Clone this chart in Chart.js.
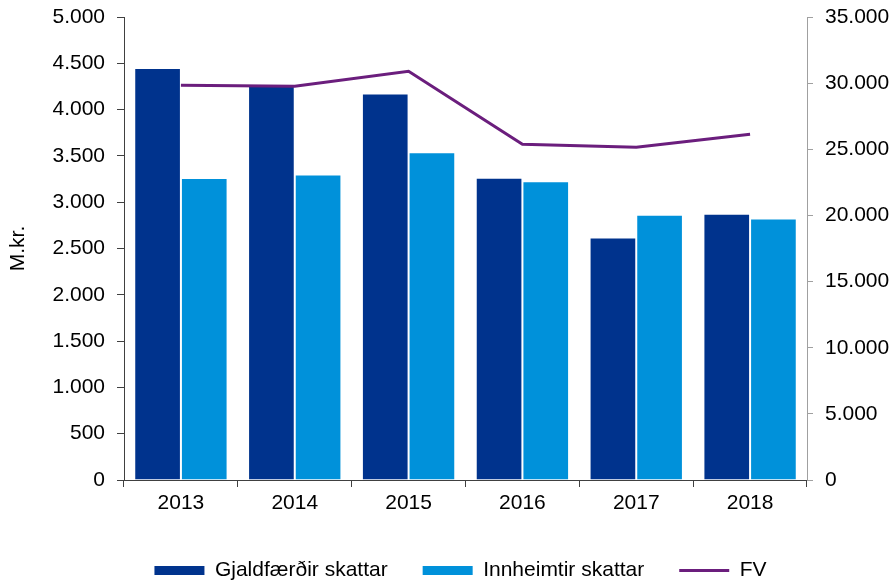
<!DOCTYPE html>
<html>
<head>
<meta charset="utf-8">
<script src="https://cdn.jsdelivr.net/npm/chart.js@4/dist/chart.umd.min.js"></script>
<style>
  html, body { margin: 0; padding: 0; background: #fff; }
  #wrap { width: 893px; height: 581px; }
</style>
</head>
<body>
<div id="wrap"><canvas id="skattar"></canvas></div>
<script>
const years = ['2013', '2014', '2015', '2016', '2017', '2018'];
const gjaldfaerdir = [4450, 4275, 4175, 3265, 2620, 2875];
const innheimtir = [3260, 3300, 3540, 3225, 2865, 2825];
const fv = [29850, 29770, 30900, 25380, 25150, 26130];

const fmt = v => String(v).replace(/\B(?=(\d{3})+(?!\d))/g, '.');
const FONT = { family: 'Liberation Sans', size: 21 };

// legend sits a little right of centre in the original
const shiftLegend = {
    id: 'shiftLegend',
    afterLayout(chart) {
        chart.legend.left += 14;
        chart.legend.right += 14;
    },
};

const ctx = document.getElementById('skattar');

new Chart(ctx, {
    type: 'bar',
    plugins: [shiftLegend],
    data: {
        labels: years,
        datasets: [
            {
                label: 'Gjaldfærðir skattar',
                data: gjaldfaerdir,
                backgroundColor: '#00338D',
                borderColor: '#ffffff',
                borderWidth: 1,
                borderSkipped: 'bottom',
                categoryPercentage: 0.82,
                barPercentage: 1.0,
                yAxisID: 'y',
                order: 2,
            },
            {
                label: 'Innheimtir skattar',
                data: innheimtir,
                backgroundColor: '#0091DA',
                borderColor: '#ffffff',
                borderWidth: 1,
                borderSkipped: 'bottom',
                categoryPercentage: 0.82,
                barPercentage: 1.0,
                yAxisID: 'y',
                order: 2,
            },
            {
                type: 'line',
                label: 'FV',
                data: fv,
                borderColor: '#6B1E7D',
                backgroundColor: '#6B1E7D',
                borderWidth: 3,
                pointRadius: 0,
                tension: 0,
                yAxisID: 'y1',
                order: 1,
            },
        ],
    },
    options: {
        responsive: true,
        maintainAspectRatio: false,
        animation: false,
        layout: {
            padding: { top: 17, left: 0, right: 0, bottom: -10 },
        },
        plugins: {
            tooltip: { enabled: false },
            legend: {
                position: 'bottom',
                labels: {
                    usePointStyle: true,
                    pointStyleWidth: 50,
                    boxHeight: 9,
                    padding: 35,
                    color: '#000',
                    font: FONT,
                    generateLabels: chart => {
                        return chart.data.datasets.map((ds, i) => ({
                            text: ds.label,
                            fillStyle: ds.backgroundColor,
                            strokeStyle: ds.type === 'line' ? ds.borderColor : ds.backgroundColor,
                            lineWidth: ds.type === 'line' ? 3 : 0,
                            pointStyle: ds.type === 'line' ? 'line' : 'rect',
                            hidden: false,
                            datasetIndex: i,
                        }));
                    },
                },
            },
        },
        scales: {
            x: {
                grid: {
                    offset: true,
                    drawOnChartArea: false,
                    drawTicks: true,
                    tickLength: 7,
                    color: '#404040',
                },
                border: { display: true, color: '#404040', width: 1 },
                ticks: {
                    color: '#000',
                    padding: 4,
                    font: FONT,
                },
                afterFit: scale => { scale.height = 45; },
            },
            y: {
                position: 'left',
                min: 0,
                max: 5000,
                title: {
                    display: true,
                    text: 'M.kr.',
                    color: '#000',
                    padding: { top: 6, bottom: 0 },
                    font: FONT,
                },
                ticks: {
                    stepSize: 500,
                    color: '#000',
                    padding: 12,
                    callback: v => fmt(v),
                    font: FONT,
                },
                grid: {
                    drawOnChartArea: false,
                    tickLength: 7,
                    color: '#404040',
                },
                border: { display: true, color: '#404040', width: 1 },
                afterFit: scale => {
                    scale.width = 124;
                    scale.paddingTop = 0;
                    scale.paddingBottom = 0;
                },
            },
            y1: {
                position: 'right',
                min: 0,
                max: 35000,
                ticks: {
                    stepSize: 5000,
                    color: '#000',
                    padding: 12,
                    callback: v => fmt(v),
                    font: FONT,
                },
                grid: {
                    drawOnChartArea: false,
                    tickLength: 6,
                    color: '#A0A0A0',
                },
                border: { display: true, color: '#A0A0A0', width: 1 },
                afterFit: scale => {
                    scale.width = 86;
                    scale.paddingTop = 0;
                    scale.paddingBottom = 0;
                },
            },
        },
    },
});
</script>
</body>
</html>
